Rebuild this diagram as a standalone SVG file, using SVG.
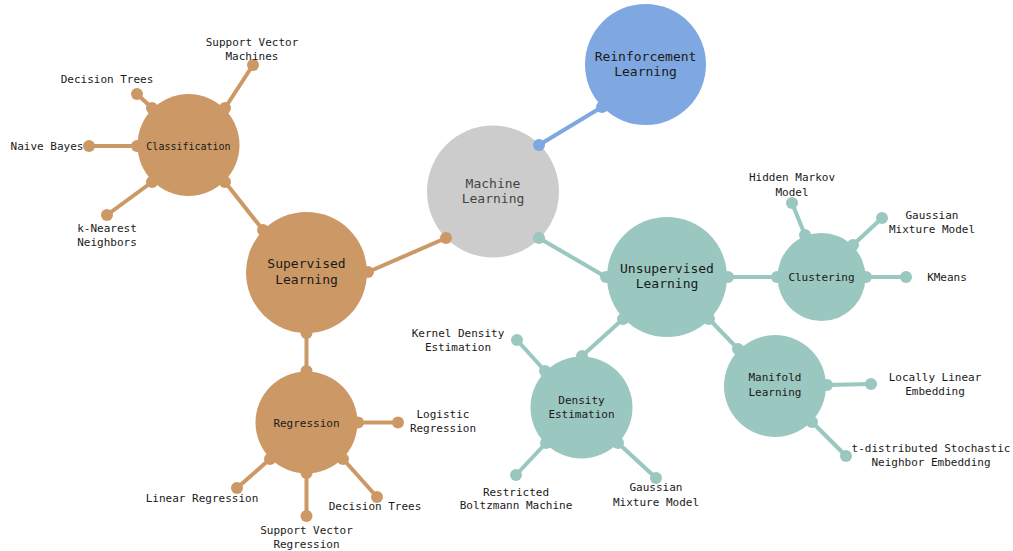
<svg xmlns="http://www.w3.org/2000/svg" width="1013" height="551" viewBox="0 0 1013 551">
<style>
text{font-family:"DejaVu Sans Mono","Liberation Mono",monospace;text-anchor:middle;fill:#1a1a1a}
.lf{font-size:11px}
.big{font-size:13px}
.mid{font-size:11px}
.sm{font-size:10px}
.o{fill:#cc9966}
.t{fill:#9ac7bf}
.b{fill:#7fa7e1}
.g{fill:#cccccc}
.lo{stroke:#cc9966;stroke-width:4}
.lt{stroke:#9ac7bf;stroke-width:4}
.lb{stroke:#7fa7e1;stroke-width:4}
</style>
<rect width="1013" height="551" fill="#ffffff"/>
<g id="nodes">
<g id="ml"><circle class="g" cx="493" cy="191.5" r="66"/><text class="big" x="493" y="188" style="fill:#444">Machine</text><text class="big" x="493" y="203" style="fill:#444">Learning</text></g>
<g id="rl"><circle class="b" cx="645.5" cy="64.5" r="60.5"/><text class="big" x="645.5" y="61">Reinforcement</text><text class="big" x="645.5" y="76">Learning</text></g>
<g id="sup"><circle class="o" cx="306.5" cy="272.5" r="60.5"/><text class="big" x="306.5" y="268">Supervised</text><text class="big" x="306.5" y="284">Learning</text></g>
<g id="unsup"><circle class="t" cx="667" cy="277" r="60"/><text class="big" x="667" y="273">Unsupervised</text><text class="big" x="667" y="288">Learning</text></g>
<g id="classification"><circle class="o" cx="188.5" cy="145" r="51"/><text class="sm" x="188.5" y="149.5">Classification</text></g>
<g id="regression"><circle class="o" cx="306.5" cy="422.5" r="51"/><text class="mid" x="306.5" y="426.5">Regression</text></g>
<g id="clustering"><circle class="t" cx="821.5" cy="277" r="44"/><text class="mid" x="821.5" y="281">Clustering</text></g>
<g id="density"><circle class="t" cx="581.5" cy="407.5" r="51"/><text class="mid" x="581.5" y="404">Density</text><text class="mid" x="581.5" y="418">Estimation</text></g>
<g id="manifold"><circle class="t" cx="775" cy="386" r="51"/><text class="mid" x="775" y="381">Manifold</text><text class="mid" x="775" y="396">Learning</text></g>
</g>
<g id="connectors">
<g class="lb"><line x1="539" y1="145" x2="602" y2="107"/></g>
<g class="b"><circle cx="539" cy="145" r="6"/><circle cx="602" cy="107" r="6"/></g>
<g class="lo">
<line x1="446" y1="238" x2="368" y2="272"/>
<line x1="225" y1="182" x2="263" y2="230"/>
<line x1="306.5" y1="333" x2="306.5" y2="371"/>
<line x1="225" y1="108" x2="253" y2="65"/>
<line x1="152" y1="108" x2="137" y2="94"/>
<line x1="137" y1="146" x2="89" y2="146"/>
<line x1="152" y1="182" x2="107" y2="215"/>
<line x1="358" y1="422.5" x2="398" y2="422.5"/>
<line x1="270" y1="459" x2="237" y2="488"/>
<line x1="306.5" y1="473" x2="306.5" y2="516"/>
<line x1="343" y1="459" x2="377" y2="497"/>
</g>
<g class="o">
<circle cx="446" cy="238" r="6"/><circle cx="368" cy="272" r="6"/>
<circle cx="225" cy="182" r="6"/><circle cx="263" cy="230" r="6"/>
<circle cx="306.5" cy="333" r="6"/><circle cx="306.5" cy="371" r="6"/>
<circle cx="225" cy="108" r="6"/><circle cx="253" cy="65" r="6"/>
<circle cx="152" cy="108" r="6"/><circle cx="137" cy="94" r="6"/>
<circle cx="137" cy="146" r="6"/><circle cx="89" cy="146" r="6"/>
<circle cx="152" cy="182" r="6"/><circle cx="107" cy="215" r="6"/>
<circle cx="358" cy="422.5" r="6"/><circle cx="398" cy="422.5" r="6"/>
<circle cx="270" cy="459" r="6"/><circle cx="237" cy="488" r="6"/>
<circle cx="306.5" cy="473" r="6"/><circle cx="306.5" cy="516" r="6"/>
<circle cx="343" cy="459" r="6"/><circle cx="377" cy="497" r="6"/>
</g>
<g class="lt">
<line x1="539" y1="238" x2="606" y2="277"/>
<line x1="728" y1="277" x2="777" y2="277"/>
<line x1="623" y1="319" x2="582" y2="356"/>
<line x1="709" y1="319" x2="738" y2="349"/>
<line x1="805" y1="235" x2="792" y2="203"/>
<line x1="853" y1="245" x2="882" y2="218"/>
<line x1="866" y1="277" x2="906" y2="277"/>
<line x1="827" y1="385" x2="871" y2="384"/>
<line x1="812" y1="422" x2="846" y2="456"/>
<line x1="545" y1="371" x2="517" y2="340"/>
<line x1="546" y1="443" x2="516" y2="475"/>
<line x1="618" y1="443" x2="656" y2="478"/>
</g>
<g class="t">
<circle cx="539" cy="238" r="6"/><circle cx="606" cy="277" r="6"/>
<circle cx="728" cy="277" r="6"/><circle cx="777" cy="277" r="6"/>
<circle cx="623" cy="319" r="6"/><circle cx="582" cy="356" r="6"/>
<circle cx="709" cy="319" r="6"/><circle cx="738" cy="349" r="6"/>
<circle cx="805" cy="235" r="6"/><circle cx="792" cy="203" r="6"/>
<circle cx="853" cy="245" r="6"/><circle cx="882" cy="218" r="6"/>
<circle cx="866" cy="277" r="6"/><circle cx="906" cy="277" r="6"/>
<circle cx="827" cy="385" r="6"/><circle cx="871" cy="384" r="6"/>
<circle cx="812" cy="422" r="6"/><circle cx="846" cy="456" r="6"/>
<circle cx="545" cy="371" r="6"/><circle cx="517" cy="340" r="6"/>
<circle cx="546" cy="443" r="6"/><circle cx="516" cy="475" r="6"/>
<circle cx="618" cy="443" r="6"/><circle cx="656" cy="478" r="6"/>
</g>
</g>
<g id="leaves">
<g id="svm"><text class="lf" x="252" y="46">Support Vector</text><text class="lf" x="252" y="60">Machines</text></g>
<g id="dt1"><text class="lf" x="107" y="83">Decision Trees</text></g>
<g id="nb"><text class="lf" x="47" y="150">Naive Bayes</text></g>
<g id="knn"><text class="lf" x="107" y="232">k-Nearest</text><text class="lf" x="107" y="246">Neighbors</text></g>
<g id="logreg"><text class="lf" x="443" y="418">Logistic</text><text class="lf" x="443" y="432">Regression</text></g>
<g id="linreg"><text class="lf" x="202" y="502">Linear Regression</text></g>
<g id="svr"><text class="lf" x="306.5" y="534">Support Vector</text><text class="lf" x="306.5" y="548">Regression</text></g>
<g id="dt2"><text class="lf" x="375" y="510">Decision Trees</text></g>
<g id="hmm"><text class="lf" x="792" y="181">Hidden Markov</text><text class="lf" x="792" y="196">Model</text></g>
<g id="gmm1"><text class="lf" x="932" y="219">Gaussian</text><text class="lf" x="932" y="233">Mixture Model</text></g>
<g id="kmeans"><text class="lf" x="947" y="281">KMeans</text></g>
<g id="lle"><text class="lf" x="935" y="381">Locally Linear</text><text class="lf" x="935" y="395">Embedding</text></g>
<g id="tsne"><text class="lf" x="931" y="452">t-distributed Stochastic</text><text class="lf" x="931" y="466">Neighbor Embedding</text></g>
<g id="kde"><text class="lf" x="458" y="337">Kernel Density</text><text class="lf" x="458" y="351">Estimation</text></g>
<g id="rbm"><text class="lf" x="516" y="496">Restricted</text><text class="lf" x="516" y="509">Boltzmann Machine</text></g>
<g id="gmm2"><text class="lf" x="656" y="491">Gaussian</text><text class="lf" x="656" y="506">Mixture Model</text></g>
</g>
</svg>
